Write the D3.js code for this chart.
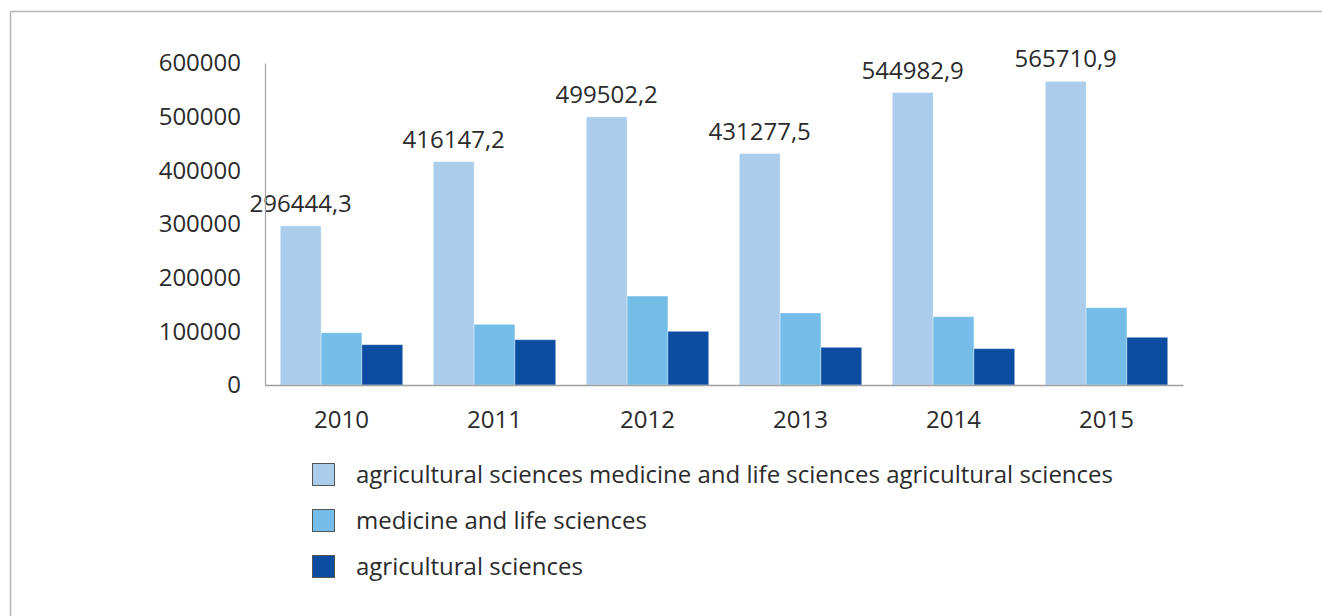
<!DOCTYPE html>
<html>
<head>
<meta charset="utf-8">
<script src="https://cdn.jsdelivr.net/npm/d3@7"></script>
<style>
  body { margin: 0; background: #fff; }
  svg { display: block; font-family: "Open Sans", sans-serif; }
</style>
</head>
<body>
<div id="chart"></div>
<script>
// data
const years = ["2010", "2011", "2012", "2013", "2014", "2015"];
const seriesNames = [
  "agricultural sciences medicine and life sciences agricultural sciences",
  "medicine and life sciences",
  "agricultural sciences"
];
const totalValues = [296444.3, 416147.2, 499502.2, 431277.5, 544982.9, 565710.9];
const medicineValues = [97400, 113100, 165800, 134200, 127300, 144000];
const agriValues = [75100, 84400, 100000, 70200, 67700, 88900];
const totalLabels = ["296444,3", "416147,2", "499502,2", "431277,5", "544982,9", "565710,9"];
const yTicks = [0, 100000, 200000, 300000, 400000, 500000, 600000];

const colors = ["#abcdeb", "#74bde8", "#0c4da1"];
const textColor = "#2b2b2b";
const fs = 24;

const width = 1322, height = 616;
const svg = d3.select("#chart").append("svg")
  .attr("width", width)
  .attr("height", height);

// frame (only top and left edges show)
svg.append("line").attr("x1", 10.5).attr("x2", width).attr("y1", 11.5).attr("y2", 11.5)
  .attr("stroke", "#b5b5b5").attr("stroke-width", 1.5);
svg.append("line").attr("x1", 10.5).attr("x2", 10.5).attr("y1", 11.5).attr("y2", height)
  .attr("stroke", "#b5b5b5").attr("stroke-width", 1.5);

const x = d3.scaleBand()
  .domain(years)
  .range([265, 1183])
  .paddingInner(0.2)
  .paddingOuter(0.1);

const xs = d3.scaleBand()
  .domain(d3.range(3))
  .range([0, x.bandwidth()]);

const y = d3.scaleLinear()
  .domain([0, 600000])
  .range([385, 63]);

const series = [totalValues, medicineValues, agriValues];

const rows = years.map((yr, i) => ({ year: yr, vals: series.map(s => s[i]) }));

const groups = svg.append("g").selectAll("g")
  .data(rows)
  .join("g")
  .attr("transform", d => `translate(${x(d.year)},0)`);

groups.selectAll("rect")
  .data(d => d.vals.map((v, k) => ({ k, v })))
  .join("rect")
  .attr("x", d => xs(d.k))
  .attr("y", d => y(d.v))
  .attr("width", xs.bandwidth())
  .attr("height", d => y(0) - y(d.v))
  .attr("fill", d => colors[d.k])
  .attr("stroke", "rgba(255,255,255,0.35)")
  .attr("stroke-width", 1);

// value labels above the first series
svg.append("g").selectAll("text")
  .data(rows)
  .join("text")
  .attr("x", d => x(d.year) + xs(0) + xs.bandwidth() / 2)
  .attr("y", d => y(d.vals[0]) - 14)
  .attr("text-anchor", "middle")
  .attr("font-size", fs)
  .attr("fill", textColor)
  .text((d, i) => totalLabels[i]);

// axes
const yAxis = svg.append("g")
  .attr("transform", "translate(265,0)")
  .call(d3.axisLeft(y).tickValues(yTicks).tickSize(0).tickPadding(24).tickFormat(d3.format("d")));
yAxis.select(".domain").attr("stroke", "#a0a0a0").attr("stroke-width", 1.2);
yAxis.selectAll("text").attr("font-size", fs).attr("fill", textColor).attr("font-family", "Open Sans");

const xAxis = svg.append("g")
  .attr("transform", "translate(0,385)")
  .call(d3.axisBottom(x).tickSize(0).tickPadding(26));
xAxis.select(".domain").attr("stroke", "#a0a0a0").attr("stroke-width", 1.5);
xAxis.selectAll("text").attr("font-size", fs).attr("fill", textColor).attr("font-family", "Open Sans");

// legend
const legend = svg.append("g").selectAll("g")
  .data(seriesNames)
  .join("g")
  .attr("transform", (d, i) => `translate(312,${475 + i * 46})`);

legend.append("rect")
  .attr("x", 0.5).attr("y", -11.5)
  .attr("width", 22).attr("height", 22)
  .attr("fill", (d, i) => colors[i])
  .attr("stroke", "#555")
  .attr("stroke-width", 1);

legend.append("text")
  .attr("x", 44)
  .attr("dy", "0.35em")
  .attr("font-size", fs)
  .attr("fill", textColor)
  .text(d => d);
</script>
</body>
</html>
